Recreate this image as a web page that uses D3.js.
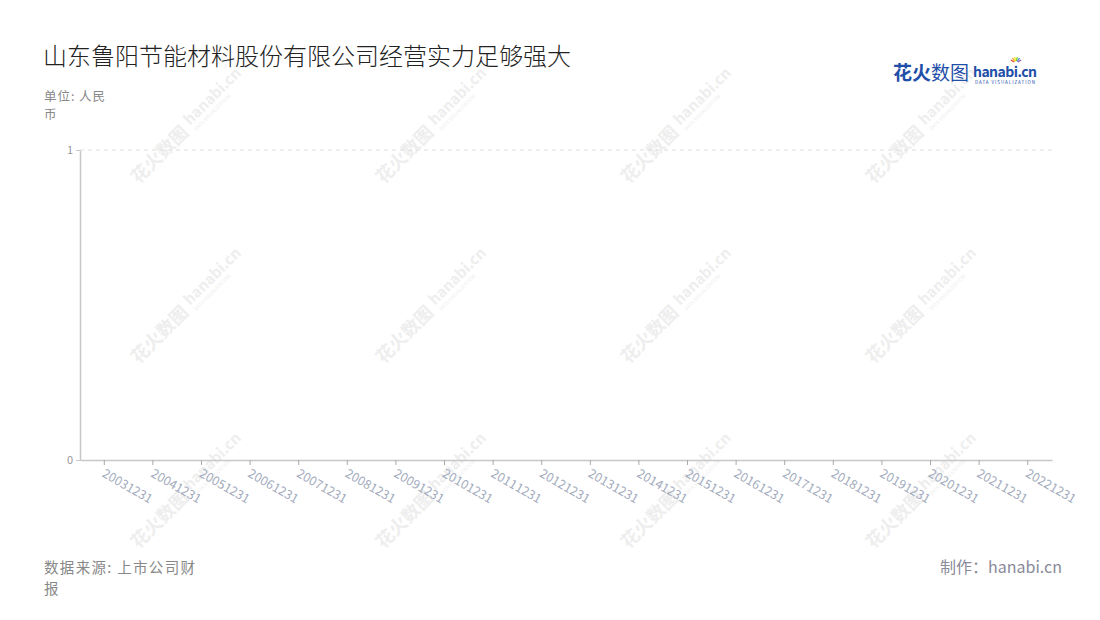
<!DOCTYPE html>
<html>
<head>
<meta charset="utf-8">
<script src="https://cdn.jsdelivr.net/npm/d3@7"></script>
<style>
  body { margin: 0; background: #fff; }
  svg text { font-family: "Noto Sans CJK SC", "Noto Sans", sans-serif; }
</style>
</head>
<body>
<script>
// données (le graphique d'origine est vide : aucune valeur publiée)
const categories = ["20031231", "20041231", "20051231", "20061231", "20071231", "20081231",
  "20091231", "20101231", "20111231", "20121231", "20131231", "20141231", "20151231",
  "20161231", "20171231", "20181231", "20191231", "20201231", "20211231", "20221231"];
const values = categories.map(() => null);
const yTicks = [0, 1];

const W = 1100, H = 620;
const margin = { top: 150, right: 48, bottom: 160, left: 80 };

const svg = d3.select("body").append("svg")
  .attr("width", W)
  .attr("height", H);

// filigranes
const wmX = [183, 428, 673, 918], wmY = [130, 310, 495];
wmY.forEach(wy => wmX.forEach(wx => {
  const g = svg.append("g")
    .attr("transform", `translate(${wx},${wy}) rotate(-45)`)
    .attr("opacity", 0.35);
  g.append("text").text("花火数图")
    .attr("x", -70).attr("y", 7)
    .style("font-size", "18px").style("font-weight", "bold").attr("fill", "#cfcfcf");
  g.append("text").text("hanabi.cn")
    .attr("x", 8).attr("y", 2)
    .style("font-size", "15px").style("font-weight", "bold").attr("fill", "#cfcfcf");
  g.append("text").text("DATA VISUALIZATION")
    .attr("x", 9).attr("y", 10)
    .style("font-size", "5px").attr("fill", "#cfcfcf");
}));

// échelles
const x = d3.scaleBand()
  .domain(categories)
  .range([margin.left, W - margin.right]);

const y = d3.scaleLinear()
  .domain([0, 1])
  .range([H - margin.bottom, margin.top]);

// grille
svg.append("g")
  .selectAll("line")
  .data(yTicks.filter(d => d > 0))
  .enter()
  .append("line")
  .attr("x1", margin.left)
  .attr("x2", W - margin.right)
  .attr("y1", d => y(d))
  .attr("y2", d => y(d))
  .attr("stroke", "#dcdcdc")
  .attr("stroke-dasharray", "4,4");

// axe Y
const axY = svg.append("g")
  .attr("transform", `translate(${margin.left},0)`)
  .call(d3.axisLeft(y).tickValues(yTicks).tickFormat(d3.format("d")).tickSize(4).tickSizeOuter(0));
axY.select(".domain").attr("stroke", "#c8c8c8").attr("stroke-width", 1.5);
axY.selectAll(".tick line").attr("stroke", "#c8c8c8");
axY.selectAll(".tick text")
  .attr("fill", "#999")
  .style("font-size", "11px")
  .attr("x", -7);

// axe X
const axX = svg.append("g")
  .attr("transform", `translate(0,${H - margin.bottom})`)
  .call(d3.axisBottom(x).tickSize(5).tickSizeOuter(0));
axX.select(".domain").attr("stroke", "#c8c8c8").attr("stroke-width", 1.5);
axX.selectAll(".tick line").attr("stroke", "#aaa");
axX.selectAll(".tick text")
  .attr("fill", "#a3abbd")
  .style("font-size", "12.5px")
  .attr("text-anchor", "start")
  .attr("dy", "0")
  .attr("transform", "translate(-3,16) rotate(30)")
  .attr("y", 0)
  .attr("x", 0);

// barres (aucune valeur)
svg.append("g")
  .selectAll("rect")
  .data(values.map((v, i) => ({ c: categories[i], v })).filter(d => d.v != null))
  .enter()
  .append("rect")
  .attr("x", d => x(d.c) + x.bandwidth() * 0.25)
  .attr("width", x.bandwidth() * 0.5)
  .attr("y", d => y(d.v))
  .attr("height", d => y(0) - y(d.v))
  .attr("fill", "#3c7dd4");

// titres et textes
svg.append("text")
  .text("山东鲁阳节能材料股份有限公司经营实力足够强大")
  .attr("x", 43).attr("y", 65)
  .style("font-size", "24px").style("font-weight", "300").attr("fill", "#222");

// textes sur deux lignes (interligne assez grand pour ne pas se chevaucher)
svg.append("text").text("单位: 人民")
  .attr("x", 44).attr("y", 100.5)
  .attr("textLength", 61)
  .style("font-size", "12.5px").attr("fill", "#888");
svg.append("text").text("币")
  .attr("x", 44).attr("y", 118.8)
  .style("font-size", "12.5px").attr("fill", "#888");

svg.append("text").text("数据来源: 上市公司财")
  .attr("x", 44).attr("y", 573)
  .attr("textLength", 151)
  .style("font-size", "14.5px").attr("fill", "#888");
svg.append("text").text("报")
  .attr("x", 44).attr("y", 594.3)
  .style("font-size", "14.5px").attr("fill", "#888");

svg.append("text").text("制作：hanabi.cn")
  .attr("x", 1062).attr("y", 573)
  .attr("text-anchor", "end")
  .style("font-size", "16px").attr("fill", "#8a8a99");

// logo
const logo = svg.append("g").attr("transform", "translate(893,80)");
logo.append("text").text("花火")
  .attr("x", 0).attr("y", 0)
  .style("font-size", "19px").style("font-weight", "bold").attr("fill", "#1f4fa8");
logo.append("text").text("数图")
  .attr("x", 38).attr("y", 0)
  .style("font-size", "19px").attr("fill", "#1f4fa8");
logo.append("text").text("hanabi.cn")
  .attr("x", 80).attr("y", -3)
  .style("font-size", "14px").style("font-weight", "bold").attr("fill", "#1f4fa8")
  .attr("textLength", 64);
logo.append("text").text("DATA VISUALIZATION")
  .attr("x", 82).attr("y", 4)
  .style("font-size", "4.5px").attr("fill", "#1f4fa8")
  .attr("textLength", 60);
const sparks = ["#e94b3c", "#f5a623", "#f8e71c", "#7ed321", "#4a90e2", "#9b59b6"];
sparks.forEach((c, i) => {
  const a = -150 + i * 24;
  const r = a * Math.PI / 180;
  logo.append("line")
    .attr("x1", 123 + Math.cos(r) * 2).attr("y1", -17 + Math.sin(r) * 2)
    .attr("x2", 123 + Math.cos(r) * 6).attr("y2", -17 + Math.sin(r) * 6)
    .attr("stroke", c).attr("stroke-width", 1.3);
});
</script>
</body>
</html>
